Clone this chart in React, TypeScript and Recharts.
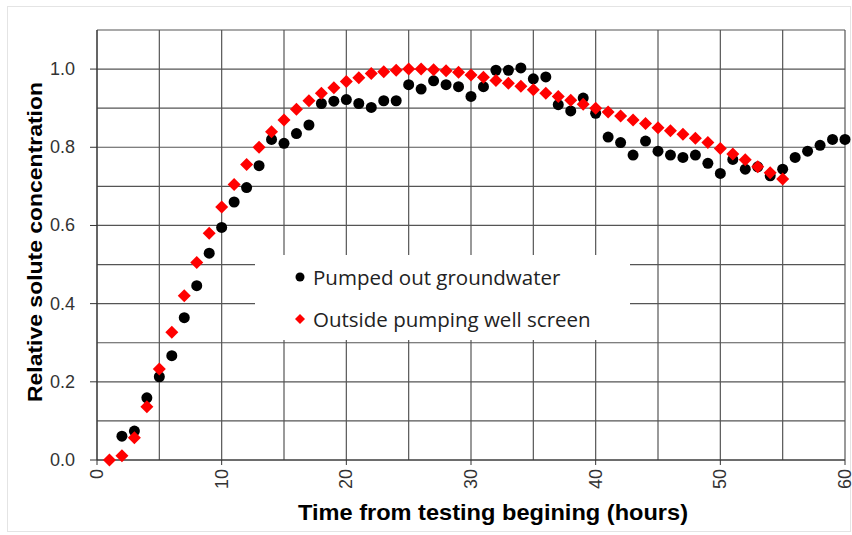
import React from 'react';
import {
  ScatterChart,
  Scatter,
  XAxis,
  YAxis,
  CartesianGrid,
} from 'recharts';

// hours for each series
const pumpedHours = [
  2, 3, 4, 5, 6, 7, 8, 9, 10, 11, 12, 13, 14, 15, 16, 17, 18, 19, 20, 21, 22, 23, 24, 25, 26, 27, 28, 29, 30, 31,
  32, 33, 34, 35, 36, 37, 38, 39, 40, 41, 42, 43, 44, 45, 46, 47, 48, 49, 50, 51, 52, 53, 54, 55, 56, 57, 58, 59, 60,
];
const pumpedValues = [
  0.061, 0.074, 0.159, 0.213, 0.267, 0.364, 0.446, 0.529, 0.595, 0.66, 0.697, 0.753, 0.82, 0.81, 0.835, 0.857,
  0.912, 0.918, 0.922, 0.912, 0.902, 0.919, 0.919, 0.96, 0.949, 0.97, 0.96, 0.955, 0.93, 0.955, 0.997, 0.997,
  1.003, 0.975, 0.98, 0.909, 0.893, 0.926, 0.887, 0.826, 0.812, 0.78, 0.816, 0.79, 0.78, 0.774, 0.78, 0.759,
  0.733, 0.769, 0.744, 0.75, 0.727, 0.744, 0.774, 0.79, 0.805, 0.82, 0.82,
];

const outsideHours = [
  1, 2, 3, 4, 5, 6, 7, 8, 9, 10, 11, 12, 13, 14, 15, 16, 17, 18, 19, 20, 21, 22, 23, 24, 25, 26, 27, 28, 29, 30,
  31, 32, 33, 34, 35, 36, 37, 38, 39, 40, 41, 42, 43, 44, 45, 46, 47, 48, 49, 50, 51, 52, 53, 54, 55,
];
const outsideValues = [
  0.0, 0.011, 0.057, 0.136, 0.233, 0.327, 0.42, 0.505, 0.58, 0.647, 0.705, 0.756, 0.8, 0.84, 0.87, 0.897, 0.919,
  0.938, 0.952, 0.968, 0.978, 0.989, 0.993, 0.997, 1.0, 1.0, 0.998, 0.996, 0.992, 0.985, 0.979, 0.971, 0.964,
  0.956, 0.947, 0.938, 0.93, 0.92, 0.91, 0.9, 0.89, 0.88, 0.87, 0.861, 0.85, 0.842, 0.833, 0.823, 0.812, 0.797,
  0.783, 0.768, 0.75, 0.735, 0.719,
];

const xTicks = [0, 10, 20, 30, 40, 50, 60];
const yTicks = [0, 0.2, 0.4, 0.6, 0.8, 1.0];
const xGrid = [0, 5, 10, 15, 20, 25, 30, 35, 40, 45, 50, 55, 60];
const yGrid = [0, 0.1, 0.2, 0.3, 0.4, 0.5, 0.6, 0.7, 0.8, 0.9, 1.0, 1.1];

const pumpedData = pumpedHours.map((x, i) => ({ x, y: pumpedValues[i] }));
const outsideData = outsideHours.map((x, i) => ({ x, y: outsideValues[i] }));

const FONT = '"Liberation Sans", Arial, sans-serif';

const Dot = (props: any) => <circle cx={props.cx} cy={props.cy} r={5.5} fill="#000" />;

const Diamond = (props: any) => {
  const { cx, cy } = props;
  const s = 6.5;
  return <polygon points={`${cx},${cy - s} ${cx + s},${cy} ${cx},${cy + s} ${cx - s},${cy}`} fill="#ff0000" />;
};

const XTick = (props: any) => {
  const { x, y, payload } = props;
  return (
    <text
      x={x}
      y={y + 2}
      transform={`rotate(-90, ${x}, ${y + 2})`}
      textAnchor="end"
      dominantBaseline="central"
      fontFamily={FONT}
      fontSize={18}
      fill="#333"
    >
      {payload.value}
    </text>
  );
};

const YTick = (props: any) => {
  const { x, y, payload } = props;
  return (
    <text x={x - 13} y={y} textAnchor="end" dominantBaseline="central" fontFamily={FONT} fontSize={18} fill="#333">
      {Number(payload.value).toFixed(1)}
    </text>
  );
};

const XTitle = () => (
  <text
    x={493}
    y={520}
    textAnchor="middle"
    fontFamily={FONT}
    fontWeight="bold"
    fontSize={22}
    textLength={390}
    lengthAdjust="spacingAndGlyphs"
    fill="#000"
  >
    Time from testing begining (hours)
  </text>
);

const YTitle = () => (
  <text
    x={42}
    y={242}
    transform="rotate(-90, 42, 242)"
    textAnchor="middle"
    fontFamily={FONT}
    fontWeight="bold"
    fontSize={21}
    textLength={320}
    lengthAdjust="spacingAndGlyphs"
    fill="#000"
  >
    Relative solute concentration
  </text>
);

const LegendBox = () => (
  <div
    style={{
      position: 'absolute',
      left: 255,
      top: 255,
      background: '#fff',
      width: 375,
      height: 85,
      fontFamily: '"Open Sans", sans-serif',
      fontSize: 20.5,
      lineHeight: '24px',
      color: '#222',
    }}
  >
    <div style={{ position: 'absolute', left: 40, top: 10, display: 'flex', alignItems: 'center', whiteSpace: 'nowrap' }}>
      <svg width={10} height={10} style={{ marginRight: 8 }}>
        <circle cx={5} cy={5} r={4.5} fill="#000" />
      </svg>
      Pumped out groundwater
    </div>
    <div style={{ position: 'absolute', left: 40, top: 52, display: 'flex', alignItems: 'center', whiteSpace: 'nowrap' }}>
      <svg width={10} height={10} style={{ marginRight: 8 }}>
        <polygon points="5,0 10,5 5,10 0,5" fill="#ff0000" />
      </svg>
      Outside pumping well screen
    </div>
  </div>
);

export default function App() {
  return (
    <div style={{ position: 'absolute', left: 0, top: 0, width: 852, height: 535, background: '#fff' }}>
      <div
        style={{ position: 'absolute', left: 7, top: 6, width: 842, height: 524, border: '1px solid #e4e4e4' }}
      />
      <ScatterChart width={852} height={535} margin={{ top: 30, right: 7, bottom: 0, left: 0 }}>
        <CartesianGrid
          stroke="#555"
          strokeWidth={1.2}
          horizontalValues={yGrid}
          verticalValues={xGrid}
        />
        <XAxis
          type="number"
          dataKey="x"
          domain={[0, 60]}
          ticks={xTicks}
          interval={0}
          height={75}
          tick={<XTick />}
          tickSize={5}
          stroke="#333"
          label={<XTitle />}
        />
        <YAxis
          type="number"
          dataKey="y"
          domain={[0, 1.1]}
          ticks={yTicks}
          interval={0}
          width={97}
          tick={<YTick />}
          tickSize={7}
          stroke="#333"
          label={<YTitle />}
        />
        <Scatter name="Pumped out groundwater" data={pumpedData} shape={<Dot />} isAnimationActive={false} />
        <Scatter name="Outside pumping well screen" data={outsideData} shape={<Diamond />} isAnimationActive={false} />
      </ScatterChart>
      <LegendBox />
    </div>
  );
}
